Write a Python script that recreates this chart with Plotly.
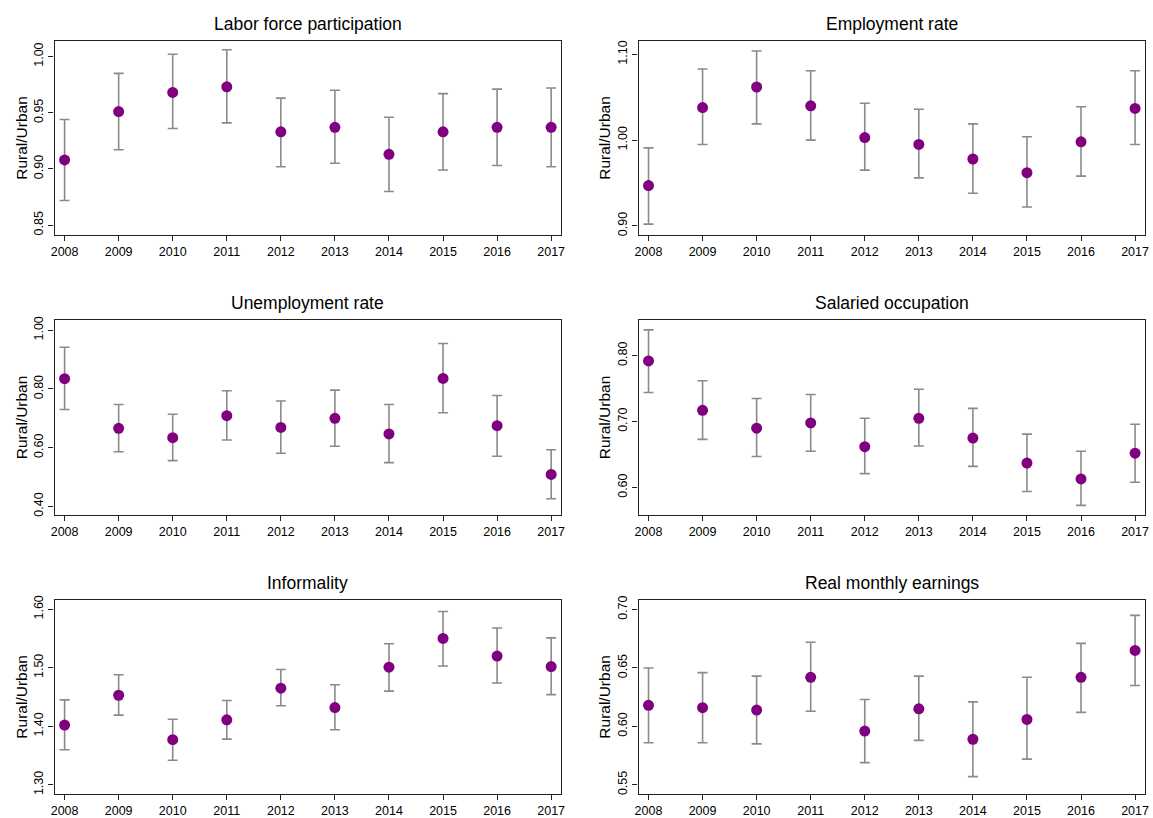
import plotly.graph_objects as go

years = [2008, 2009, 2010, 2011, 2012, 2013, 2014, 2015, 2016, 2017]

titles = ["Labor force participation", "Employment rate", "Unemployment rate",
          "Salaried occupation", "Informality", "Real monthly earnings"]

lfp_est = [0.908, 0.951, 0.968, 0.973, 0.933, 0.937, 0.913, 0.933, 0.937, 0.937]
lfp_lo = [0.872, 0.917, 0.936, 0.941, 0.902, 0.905, 0.880, 0.899, 0.903, 0.902]
lfp_hi = [0.944, 0.985, 1.002, 1.006, 0.963, 0.970, 0.946, 0.967, 0.971, 0.972]

emp_est = [0.947, 1.038, 1.062, 1.040, 1.003, 0.995, 0.978, 0.962, 0.998, 1.037]
emp_lo = [0.902, 0.995, 1.019, 1.000, 0.965, 0.956, 0.938, 0.922, 0.958, 0.995]
emp_hi = [0.991, 1.083, 1.104, 1.081, 1.043, 1.036, 1.019, 1.004, 1.039, 1.081]

unemp_est = [0.835, 0.666, 0.634, 0.709, 0.669, 0.700, 0.647, 0.836, 0.675, 0.509]
unemp_lo = [0.730, 0.586, 0.556, 0.626, 0.581, 0.605, 0.549, 0.719, 0.571, 0.426]
unemp_hi = [0.942, 0.747, 0.714, 0.794, 0.759, 0.796, 0.747, 0.955, 0.778, 0.593]

sal_est = [0.792, 0.717, 0.690, 0.698, 0.662, 0.705, 0.675, 0.637, 0.613, 0.652]
sal_lo = [0.744, 0.673, 0.647, 0.655, 0.621, 0.663, 0.632, 0.594, 0.573, 0.608]
sal_hi = [0.839, 0.762, 0.735, 0.741, 0.705, 0.749, 0.720, 0.681, 0.655, 0.696]

inf_est = [1.402, 1.453, 1.377, 1.411, 1.465, 1.432, 1.501, 1.550, 1.520, 1.502]
inf_lo = [1.360, 1.419, 1.342, 1.378, 1.435, 1.394, 1.460, 1.503, 1.474, 1.454]
inf_hi = [1.445, 1.488, 1.412, 1.444, 1.497, 1.471, 1.541, 1.596, 1.568, 1.551]

earn_est = [0.618, 0.616, 0.614, 0.642, 0.596, 0.615, 0.589, 0.606, 0.642, 0.665]
earn_lo = [0.586, 0.586, 0.585, 0.613, 0.569, 0.588, 0.557, 0.572, 0.612, 0.635]
earn_hi = [0.650, 0.646, 0.643, 0.672, 0.623, 0.643, 0.621, 0.642, 0.671, 0.695]

ytick_sets = [
    [0.85, 0.90, 0.95, 1.00],
    [0.90, 1.00, 1.10],
    [0.40, 0.60, 0.80, 1.00],
    [0.60, 0.70, 0.80],
    [1.30, 1.40, 1.50, 1.60],
    [0.55, 0.60, 0.65, 0.70],
]

series = [
    (lfp_est, lfp_lo, lfp_hi),
    (emp_est, emp_lo, emp_hi),
    (unemp_est, unemp_lo, unemp_hi),
    (sal_est, sal_lo, sal_hi),
    (inf_est, inf_lo, inf_hi),
    (earn_est, earn_lo, earn_hi),
]

# layout (pixel geometry)
W, H = 1153, 818
y_ranges = [[0.841, 1.014], [0.889, 1.116], [0.370, 1.036],
            [0.558, 0.8545], [1.284, 1.6164], [0.542, 0.7085]]
col_px = [(51, 561), (639, 1149)]
row_px = [(37, 233), (318, 515), (600, 796)]

FONT = "Liberation Sans, Arial, Helvetica, sans-serif"
fig = go.Figure()

for i, ((est, lo, hi), title) in enumerate(zip(series, titles)):
    r, c = divmod(i, 2)
    n = i + 1
    xa = "x" if n == 1 else f"x{n}"
    ya = "y" if n == 1 else f"y{n}"
    plus = [h - e for h, e in zip(hi, est)]
    minus = [e - l for e, l in zip(est, lo)]
    fig.add_trace(go.Scatter(
        x=years, y=est, mode="markers", xaxis=xa, yaxis=ya,
        marker=dict(color="#800080", size=11),
        error_y=dict(type="data", symmetric=False, array=plus, arrayminus=minus,
                     color="#8a8a8a", thickness=1.6, width=5),
        showlegend=False, name=title,
    ))
    x0, x1 = col_px[c]
    t, b = row_px[r]
    xdom = [x0 / W, x1 / W]
    ydom = [1 - b / H, 1 - t / H]
    axis_common = dict(showline=True, linecolor="#222", linewidth=1.3, mirror=True,
                       ticks="outside", ticklen=5, tickwidth=1, tickcolor="#222",
                       showgrid=False, zeroline=False,
                       tickfont=dict(size=12.5, color="black", family=FONT))
    fig.update_layout({
        ("xaxis" if n == 1 else f"xaxis{n}"): dict(
            domain=xdom, anchor=ya, range=[2007.816, 2017.184],
            tickvals=years, ticktext=[str(v) for v in years], **axis_common),
        ("yaxis" if n == 1 else f"yaxis{n}"): dict(
            domain=ydom, anchor=xa, range=y_ranges[i],
            tickvals=ytick_sets[i], tickformat=".2f", tickangle=-90,
            title=dict(text="Rural/Urban", font=dict(size=15.5, color="black", family=FONT),
                       standoff=1),
            **axis_common),
    })
    fig.add_annotation(text=title, xref="paper", yref="paper",
                       x=(xdom[0] + xdom[1]) / 2, y=ydom[1], yshift=5,
                       xanchor="center", yanchor="bottom", showarrow=False,
                       font=dict(size=17.5, color="black", family=FONT))

fig.update_layout(width=W, height=H, margin=dict(l=0, r=0, t=0, b=0),
                  paper_bgcolor="white", plot_bgcolor="white",
                  font=dict(family=FONT, color="black"))

fig.write_html("out.html", config={"displayModeBar": False},
               post_script="document.body.style.margin='0px';document.body.style.overflow='hidden';")
